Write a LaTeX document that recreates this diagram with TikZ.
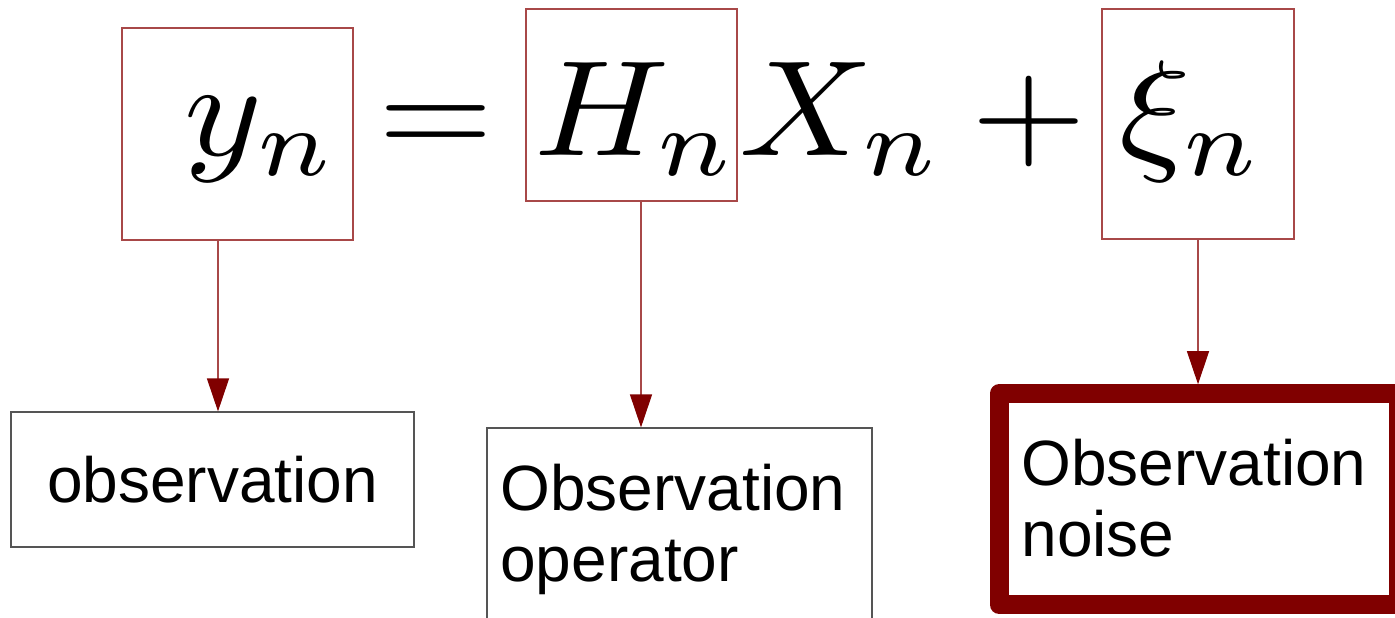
\RequirePackage{fix-cm}
\documentclass[tikz,border=0pt]{standalone}
\usepackage{graphicx}
\usepackage{fontspec}
\newfontfamily\arialf{Liberation Sans}
\usetikzlibrary{arrows.meta}
\definecolor{maroon}{HTML}{800000}
\definecolor{edgered}{HTML}{A84848}
\definecolor{boxgray}{HTML}{555555}
\newcommand{\eqpart}[1]{\scalebox{7.4}[6.8]{$#1$}}
\begin{document}
\begin{tikzpicture}[x=0.5pt,y=-0.5pt,
  mathbox/.style={draw=edgered, line width=0.6pt, rectangle, inner sep=0pt},
  mathtxt/.style={inner sep=0pt, anchor=base west, font=\fontsize{10}{12}\selectfont},
  labelbox/.style={draw=boxgray, line width=0.6pt, rectangle, inner sep=0pt, fill=white},
  labeltxt/.style={inner sep=0pt, anchor=base west, align=left, font=\arialf\fontsize{32}{35.5}\selectfont},
  noisebox/.style={draw=maroon, line width=9.5pt, line join=round, rectangle, inner sep=0pt, fill=white},
  conn/.style={draw=edgered, line width=0.6pt, -{Triangle[width=11pt,length=16.5pt,color=maroon]}}
]
\useasboundingbox (0,0) rectangle (1395,617);
\clip (0,0) rectangle (1395,617);

% boxes around the terms
\node[mathbox, minimum width=115.5pt, minimum height=106pt] (ybox) at (237.5,134) {};
\node[mathbox, minimum width=105.5pt, minimum height=96pt] (hbox) at (631.5,105) {};
\node[mathbox, minimum width=96pt, minimum height=115pt] (xibox) at (1198,124) {};

% the equation
\node[mathtxt] (yn) at (184.3,155) {\eqpart{y_n}};
\node[mathtxt, anchor=base] (eq) at (436,155) {\eqpart{=}};
\node[mathtxt] (Hn) at (534,155) {\eqpart{H_n}};
\node[mathtxt] (Xn) at (739,155) {\eqpart{X_n}};
\node[mathtxt, anchor=base] (plus) at (1029.5,155) {\eqpart{+}};
\node[mathtxt] (xin) at (1118.6,155) {\eqpart{\xi_n}};

% label boxes
\node[labelbox, minimum width=201.5pt, minimum height=67.5pt, font=\arialf\fontsize{32}{35.5}\selectfont] (obs) at (212.5,479.5) {observation};
\node[labelbox, minimum width=192.5pt, minimum height=111pt] (op) at (679.5,539) {};
\node[labeltxt] (optxt) at (500,581.7) {Observation\\operator};
\node[noisebox, minimum width=199.5pt, minimum height=105.5pt] (noise) at (1198.5,499.2) {};
\node[labeltxt] (noisetxt) at (1021,556.7) {Observation\\noise};

% connectors
\coordinate (a1) at (218,0);
\coordinate (a2) at (641,0);
\coordinate (a3) at (1198,0);
\draw[conn] (a1 |- ybox.south) -- (a1 |- obs.north);
\draw[conn] (a2 |- hbox.south) -- (a2 |- op.north);
\draw[conn] (a3 |- xibox.south) -- (a3 |- noise.north);
\end{tikzpicture}
\end{document}
